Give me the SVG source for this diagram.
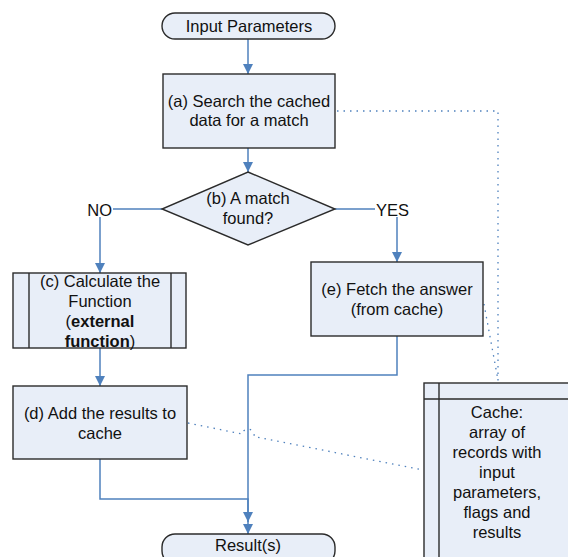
<svg xmlns="http://www.w3.org/2000/svg" width="568" height="557" viewBox="0 0 568 557">
<style>
.box{fill:#E8EEF8;stroke:#2b2b2b;stroke-width:1.4}
.t{font-family:"Liberation Sans",Arial,sans-serif;font-size:16.5px;fill:#111;text-anchor:middle}
.con{fill:none;stroke:#4F81BD;stroke-width:1.5}
.dot{fill:none;stroke:#4F81BD;stroke-width:1.3;stroke-dasharray:1.5 5}
.b{font-weight:bold}
</style>
<defs>
<marker id="arr" viewBox="0 0 10 10" refX="10" refY="5" markerWidth="10" markerHeight="10" markerUnits="userSpaceOnUse" orient="auto">
<path d="M0,0 L10,5 L0,10 z" fill="#4F81BD"/>
</marker>
</defs>
<rect width="568" height="557" fill="#fff"/>
<g id="connectors">
<path class="con" d="M248,39 V74" marker-end="url(#arr)"/>
<path class="con" d="M248,148 V172" marker-end="url(#arr)"/>
<path class="con" d="M162,209 H113"/>
<path class="con" d="M100,217 V273" marker-end="url(#arr)"/>
<path class="con" d="M335,209 H375"/>
<path class="con" d="M397,217 V262" marker-end="url(#arr)"/>
<path class="con" d="M100,348 V386" marker-end="url(#arr)"/>
<path class="con" d="M397,336 V375 H248 V534" marker-end="url(#arr)"/>
<path class="con" d="M100,459 V499 H248 V522" marker-end="url(#arr)"/>
<path class="dot" d="M337,111 H498 V382"/>
<path class="dot" d="M484,304 L498,380"/>
<path class="dot" d="M188,423 L242,434 A6,6 0 0 1 254,436.5 L423,470"/>
</g>
<g id="input">
<rect class="box" x="162" y="13" width="173" height="26" rx="13"/>
<text class="t" x="249" y="32">Input Parameters</text>
</g>
<g id="a">
<rect class="box" x="163" y="74" width="172" height="74"/>
<text class="t" x="249" y="106.5">(a) Search the cached</text>
<text class="t" x="249" y="126">data for a match</text>
</g>
<g id="b">
<polygon class="box" points="248,172 335,209 248,245 162,209"/>
<text class="t" x="248" y="204">(b) A match</text>
<text class="t" x="248" y="224">found?</text>
</g>
<g id="labels">
<text class="t" x="112" y="216" style="text-anchor:end">NO</text>
<text class="t" x="376" y="216" style="text-anchor:start">YES</text>
</g>
<g id="c">
<rect class="box" x="13" y="273" width="173" height="75"/>
<line x1="29" y1="273" x2="29" y2="348" stroke="#2b2b2b" stroke-width="1.4"/>
<line x1="171" y1="273" x2="171" y2="348" stroke="#2b2b2b" stroke-width="1.4"/>
<text class="t" x="100" y="287">(c) Calculate the</text>
<text class="t" x="100" y="307">Function</text>
<text class="t" x="100" y="327">(<tspan class="b">external</tspan></text>
<text class="t" x="100" y="347"><tspan class="b">function</tspan>)</text>
</g>
<g id="d">
<rect class="box" x="13" y="386" width="174" height="73"/>
<text class="t" x="100" y="419">(d) Add the results to</text>
<text class="t" x="100" y="439">cache</text>
</g>
<g id="e">
<rect class="box" x="311" y="262" width="172" height="74"/>
<text class="t" x="397" y="295">(e) Fetch the answer</text>
<text class="t" x="397" y="315">(from cache)</text>
</g>
<g id="cache">
<rect class="box" x="424" y="383" width="170" height="200"/>
<line x1="439" y1="383" x2="439" y2="583" stroke="#2b2b2b" stroke-width="1.4"/>
<line x1="424" y1="399" x2="594" y2="399" stroke="#2b2b2b" stroke-width="1.4"/>
<text class="t" x="497" y="418">Cache:</text>
<text class="t" x="497" y="438">array of</text>
<text class="t" x="497" y="458">records with</text>
<text class="t" x="497" y="478">input</text>
<text class="t" x="497" y="498">parameters,</text>
<text class="t" x="497" y="518">flags and</text>
<text class="t" x="497" y="538">results</text>
</g>
<g id="result">
<rect class="box" x="162" y="534" width="173" height="30" rx="13"/>
<text class="t" x="248" y="551">Result(s)</text>
</g>
</svg>
